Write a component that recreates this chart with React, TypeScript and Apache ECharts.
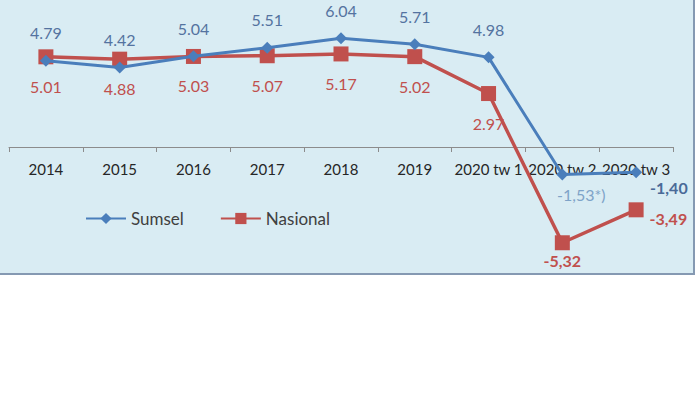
import React, { useEffect, useRef } from "react";
import * as echarts from "echarts";

const categories = ["2014", "2015", "2016", "2017", "2018", "2019", "2020 tw 1", "2020 tw 2", "2020 tw 3"];
const sumsel = [4.79, 4.42, 5.04, 5.51, 6.04, 5.71, 4.98, -1.53, -1.4];
const nasional = [5.01, 4.88, 5.03, 5.07, 5.17, 5.02, 2.97, -5.32, -3.49];
const sumselLabels = ["4.79", "4.42", "5.04", "5.51", "6.04", "5.71", "4.98", "-1,53*)", "-1,40"];
const nasionalLabels = ["5.01", "4.88", "5.03", "5.07", "5.17", "5.02", "2.97", "-5,32", "-3,49"];

const BLUE = "#4a7ebb";
const RED = "#c0504d";
const FONT = "Lato, 'Open Sans', sans-serif";

export default function App() {
  const ref = useRef<HTMLDivElement>(null);
  useEffect(() => {
    document.body.style.margin = "0";
    const chart = echarts.init(ref.current!, null, { renderer: "svg" });
    const sumselData = sumsel.map((v, i) => {
      const text = sumselLabels[i];
      let label: any = { position: "top", distance: 14 };
      if (i === 7) label = { position: "bottom", distance: 6, offset: [19, 0], color: "#7ea3c8" };
      if (i === 8) label = { position: "right", distance: 8, offset: [0, 15], fontWeight: "bold", color: "#4a6a98" };
      return { value: v, label: { ...label, formatter: () => text } };
    });
    const nasionalData = nasional.map((v, i) => {
      const text = nasionalLabels[i];
      let label: any = { position: "bottom", distance: 14 };
      if (i === 7) label = { position: "bottom", distance: 2, fontWeight: "bold" };
      if (i === 8) label = { position: "right", distance: 6, offset: [0, 9], fontWeight: "bold" };
      return { value: v, label: { ...label, formatter: () => text } };
    });
    chart.setOption({
      animation: false,
      backgroundColor: "#ffffff",
      graphic: [
        {
          type: "rect",
          z: -10,
          silent: true,
          shape: { x: -4, y: -4, width: 698, height: 278 },
          style: { fill: "#d9ecf3", stroke: "#8599b2", lineWidth: 2 },
        },
      ],
      grid: { left: 9, right: 27, top: 3, bottom: 120, containLabel: false },
      legend: {
        left: 80,
        top: 205,
        itemWidth: 40,
        itemHeight: 14,
        itemGap: 36,
        textStyle: { fontFamily: FONT, fontSize: 17, color: "#404040" },
        data: ["Sumsel", "Nasional"],
      },
      xAxis: {
        type: "category",
        data: categories,
        boundaryGap: true,
        position: "bottom",
        offset: -126,
        axisLine: { onZero: false, lineStyle: { color: "#8c8c8c", width: 1 } },
        axisTick: { show: true, length: 5, lineStyle: { color: "#8c8c8c" } },
        axisLabel: {
          fontFamily: FONT,
          fontSize: 15,
          color: "#262626",
          margin: 14,
          interval: 0,
        },
      },
      yAxis: {
        type: "value",
        min: -7,
        max: 8,
        interval: 1,
        show: false,
        splitLine: { show: false },
      },
      series: [
        {
          name: "Sumsel",
          type: "line",
          data: sumselData,
          symbol: "diamond",
          symbolSize: 12,
          color: BLUE,
          lineStyle: { width: 3, color: BLUE },
          itemStyle: { color: BLUE },
          z: 3,
          label: {
            show: true,
            fontFamily: FONT,
            fontSize: 16,
            color: "#5473a0",
          },
        },
        {
          name: "Nasional",
          type: "line",
          data: nasionalData,
          symbol: "rect",
          symbolSize: 15,
          color: RED,
          lineStyle: { width: 3.5, color: RED },
          itemStyle: { color: RED },
          z: 2,
          label: {
            show: true,
            fontFamily: FONT,
            fontSize: 16,
            color: "#c0504d",
          },
        },
      ],
    });
    return () => chart.dispose();
  }, []);
  return (
    <div
      ref={ref}
      style={{ position: "absolute", left: 0, top: 0, width: 700, height: 393 }}
    />
  );
}
